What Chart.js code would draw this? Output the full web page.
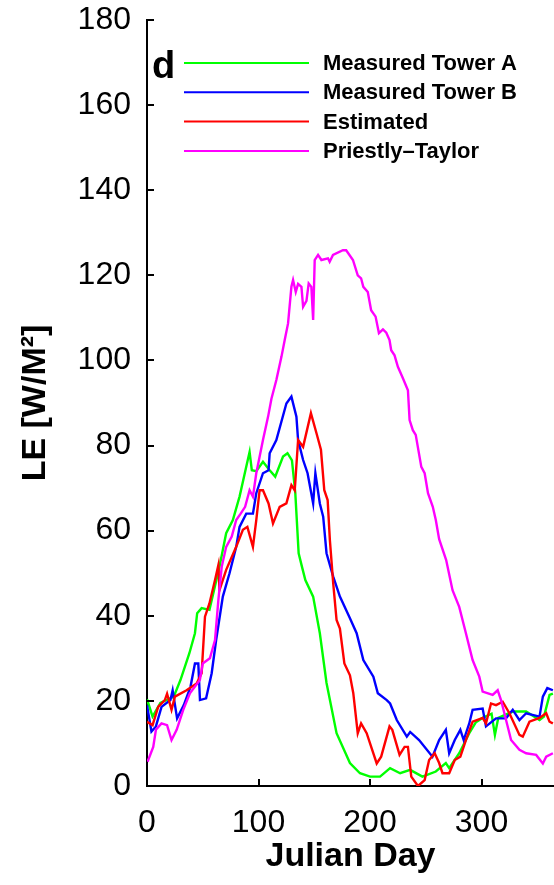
<!DOCTYPE html>
<html>
<head>
<meta charset="utf-8">
<title>LE by Julian Day</title>
<script src="https://cdn.jsdelivr.net/npm/chart.js@4.4.1/dist/chart.umd.min.js"></script>
<style>
  html, body { margin: 0; padding: 0; background: #fff; }
  #chart { display: block; }
</style>
</head>
<body>
<canvas id="chart" width="554" height="885"></canvas>
<script>
// Series (day of year, LE in W/m2)
const seriesLabels = ['Measured Tower A', 'Measured Tower B', 'Estimated', 'Priestly\u2013Taylor'];
const seriesColors = ['#00ff00', '#0000ff', '#ff0000', '#ff00ff'];

const towerADays = [0, 5, 12, 24, 30, 38, 43, 45, 49, 56, 65, 71, 77, 83, 89, 92, 94, 98, 104, 110, 115, 122, 126, 130, 133, 136, 139, 142, 149, 155, 161, 170, 182, 191, 200, 209, 218, 227, 236, 247, 259, 268, 271, 280, 289, 295, 301, 309, 312, 315, 328, 340, 352, 356, 361, 364];
const towerAValues = [20.4, 16.3, 19.5, 21, 24.9, 31.2, 35.9, 40.6, 41.8, 41.4, 51.5, 59.4, 62.5, 68, 75, 78.5, 74.2, 74, 76.2, 74.2, 72.7, 77.4, 78.2, 76.5, 68.8, 54.7, 51.5, 48.4, 44.5, 35.9, 24.2, 12.4, 5.4, 3, 2.2, 2.2, 4.2, 3, 3.8, 2.2, 3.4, 5.4, 4.2, 7.7, 12.4, 15, 16, 17, 12, 16, 17.5, 17.5, 15.5, 16.3, 21.4, 21.7];

const towerBDays = [0, 4, 8, 13, 21, 23, 27, 33, 39, 43, 46, 47.5, 53, 58, 62, 68, 74, 80, 83, 89, 95, 98, 104, 109, 110, 116, 125, 129.5, 134, 135.5, 140, 144, 149, 151, 155, 158, 161, 167, 173, 182, 188, 194, 203, 207, 215, 218, 224, 233, 236, 244, 256, 262, 268, 271, 276, 281, 284, 289, 292, 301, 304, 313, 322, 328, 334, 340, 352, 355, 359, 364];
const towerBValues = [19, 12.8, 14, 18.6, 20.2, 22.5, 15.9, 19, 23.3, 28.8, 28.8, 20.2, 20.6, 26.5, 34.3, 44.5, 50, 56.2, 60.9, 64, 64, 68.8, 73.5, 74.2, 78.2, 81.3, 89.9, 91.5, 86.8, 81.3, 76.6, 73.5, 66.4, 73.5, 66.4, 63.3, 54.7, 49.2, 44.5, 39.4, 35.9, 29.6, 25.7, 21.8, 20.2, 19.4, 15.5, 11.6, 12.7, 10.8, 6.9, 10.8, 13.2, 7.7, 10.8, 13.2, 10.8, 14.7, 17.9, 18.2, 14, 15.9, 15.9, 17.9, 15.5, 17.1, 16.3, 21, 23, 22.5];

const estimatedDays = [0, 5, 10, 16, 18, 22, 25, 35.5, 44.5, 49, 52, 56, 61, 64, 65, 71, 80, 86, 90, 95, 98, 101, 104, 109, 113, 119, 125, 129.5, 132.5, 135.5, 140, 147, 152, 156, 159, 162, 164, 167, 170, 173, 177, 182, 185, 189, 192, 197, 206, 210, 217.5, 220, 226.5, 231, 234, 237, 243, 249, 253, 258, 262, 265, 271, 276, 281, 286, 292, 301, 304, 308.5, 313, 319, 325, 334, 337, 343, 352, 358, 361, 364];
const estimatedValues = [15.1, 14.3, 18.6, 20.2, 21.7, 17.9, 21, 22.5, 24.1, 26.5, 39.8, 42.9, 48.4, 51.9, 46, 50.8, 56.2, 60.2, 60.9, 56.2, 62.5, 69.5, 69.5, 66.4, 61.7, 65.6, 66.4, 70.7, 69.5, 81.3, 79.7, 87.6, 82.9, 79, 69.5, 67.2, 57.8, 47.6, 39, 37, 28.8, 26, 21.8, 12.4, 14.7, 12.4, 5.3, 6.9, 14, 13.2, 7.3, 9.2, 9.2, 2.2, 0, 1.4, 6.1, 7.7, 5.4, 3, 3, 6.1, 6.9, 10.8, 15.1, 16, 14.7, 19.4, 19, 19.8, 17.1, 12, 11.6, 15.1, 16, 17.1, 15.1, 14.7];

const priestlyDays = [0.5, 5.6, 8, 13, 18, 22, 26.6, 32.5, 38.5, 47.4, 50, 56.4, 61, 64, 67, 71, 76, 80, 84, 88, 92, 95, 98, 104, 108.6, 111.6, 116, 120.6, 123.5, 126.5, 129.5, 131, 133.4, 135.5, 138.5, 140, 143, 145, 147.4, 149, 150.4, 153.4, 156.4, 162.3, 163.8, 166.8, 175.7, 178.6, 184.7, 189, 192, 194, 198, 201, 205, 208, 211.6, 214.6, 217.5, 219, 222, 225, 229.5, 234, 235.5, 238.4, 241, 246, 249, 252, 256.3, 259, 262, 268.3, 274, 280, 286, 292, 298, 301, 310, 314.5, 317.5, 322, 326.5, 334, 340, 349, 355, 358, 364];
const priestlyValues = [5.7, 9.2, 13.2, 14.7, 14.3, 10.8, 13.2, 17.9, 21.8, 24.9, 28.8, 30, 34.3, 43.7, 51.5, 56.2, 58.6, 62.5, 64, 65.6, 69.5, 68, 73.5, 81.3, 86.8, 91, 95.4, 100.9, 104.8, 108.7, 117.3, 118.9, 116.1, 118, 117.3, 112.6, 114, 118.1, 117.3, 109.5, 123.6, 124.8, 123.6, 124, 123.2, 124.8, 125.9, 125.9, 123.6, 120, 119.3, 117.3, 116.1, 111.8, 110.3, 106.4, 107.3, 106.5, 104.8, 102.4, 101.2, 98.5, 95.8, 93, 86, 83.6, 82.5, 75, 73.5, 68.8, 65.6, 62.5, 58, 53.1, 46, 42.1, 35.9, 29.6, 25.7, 22.2, 21.4, 22.5, 20.2, 15.5, 10.8, 8.5, 7.7, 7.3, 5.3, 6.9, 7.7];

const xTickValues = [0, 100, 200, 300];
const yTickValues = [0, 20, 40, 60, 80, 100, 120, 140, 160, 180];

const FONT = '"Liberation Sans", Helvetica, Arial, sans-serif';

function toPoints(days, values) {
    return days.map((d, i) => ({ x: d, y: values[i] }));
}

const seriesData = [
    toPoints(towerADays, towerAValues),
    toPoints(towerBDays, towerBValues),
    toPoints(estimatedDays, estimatedValues),
    toPoints(priestlyDays, priestlyValues)
];

// inward tick marks, like the original figure
const inwardTicks = {
    id: 'inwardTicks',
    afterDraw(chart) {
        const { ctx, chartArea, scales } = chart;
        const len = 7;
        ctx.save();
        ctx.strokeStyle = '#000';
        ctx.lineWidth = 2;
        ctx.beginPath();
        xTickValues.forEach(v => {
            const px = Math.round(scales.x.getPixelForValue(v));
            ctx.moveTo(px, chartArea.bottom);
            ctx.lineTo(px, chartArea.bottom - len);
        });
        yTickValues.forEach(v => {
            const py = Math.round(scales.y.getPixelForValue(v));
            ctx.moveTo(chartArea.left, py);
            ctx.lineTo(chartArea.left + len, py);
        });
        ctx.stroke();
        ctx.restore();
    }
};

// legend and panel letter drawn inside the plot
const insideLegend = {
    id: 'insideLegend',
    afterDatasetsDraw(chart) {
        const { ctx, chartArea } = chart;
        ctx.save();
        ctx.fillStyle = '#000';
        ctx.font = 'bold 38px ' + FONT;
        ctx.textBaseline = 'alphabetic';
        ctx.fillText('d', chartArea.left + 5, chartArea.top + 58);

        ctx.font = 'bold 22px ' + FONT;
        ctx.textBaseline = 'middle';
        chart.data.datasets.forEach((ds, i) => {
            const y = chartArea.top + 43 + i * 29.3;
            ctx.strokeStyle = ds.borderColor;
            ctx.lineWidth = 2;
            ctx.beginPath();
            ctx.moveTo(chartArea.left + 37, y);
            ctx.lineTo(chartArea.left + 162, y);
            ctx.stroke();
            ctx.fillStyle = '#000';
            ctx.fillText(ds.label, chartArea.left + 176, y + 1);
        });
        ctx.restore();
    }
};

const ctx = document.getElementById('chart').getContext('2d');

new Chart(ctx, {
    type: 'line',
    data: {
        datasets: seriesLabels.map((label, i) => ({
            label: label,
            data: seriesData[i],
            borderColor: seriesColors[i],
            backgroundColor: seriesColors[i],
            borderWidth: 2.4,
            pointRadius: 0,
            tension: 0,
            fill: false,
            order: seriesLabels.length - i
        }))
    },
    options: {
        responsive: false,
        devicePixelRatio: 1,
        animation: false,
        layout: { padding: { top: 20, right: 0, bottom: 0, left: 0 } },
        plugins: {
            legend: { display: false },
            tooltip: { enabled: false }
        },
        scales: {
            x: {
                type: 'linear',
                min: 0,
                max: 365,
                afterBuildTicks: scale => { scale.ticks = xTickValues.map(v => ({ value: v })); },
                afterFit: scale => {
                    scale.height = 99;
                    scale.paddingLeft = 0;
                    scale.paddingRight = 0;
                },
                grid: { display: false, drawTicks: false },
                border: { display: true, color: '#000', width: 2 },
                ticks: {
                    padding: 18,
                    color: '#000',
                    font: { family: FONT, size: 32 }
                },
                title: {
                    display: true,
                    text: 'Julian Day',
                    color: '#000',
                    font: { family: FONT, size: 34, weight: 'bold' },
                    padding: { top: 0, bottom: 8 }
                }
            },
            y: {
                type: 'linear',
                min: 0,
                max: 180,
                afterBuildTicks: scale => { scale.ticks = yTickValues.map(v => ({ value: v })); },
                afterFit: scale => {
                    scale.width = 147;
                    scale.paddingTop = 0;
                    scale.paddingBottom = 0;
                },
                grid: { display: false, drawTicks: false },
                border: { display: true, color: '#000', width: 2 },
                ticks: {
                    padding: 16,
                    color: '#000',
                    font: { family: FONT, size: 32 }
                },
                title: {
                    display: true,
                    text: 'LE [W/M\u00b2]',
                    color: '#000',
                    font: { family: FONT, size: 34, weight: 'bold' },
                    padding: { top: 15, bottom: 0 }
                }
            }
        }
    },
    plugins: [inwardTicks, insideLegend]
});
</script>
</body>
</html>
